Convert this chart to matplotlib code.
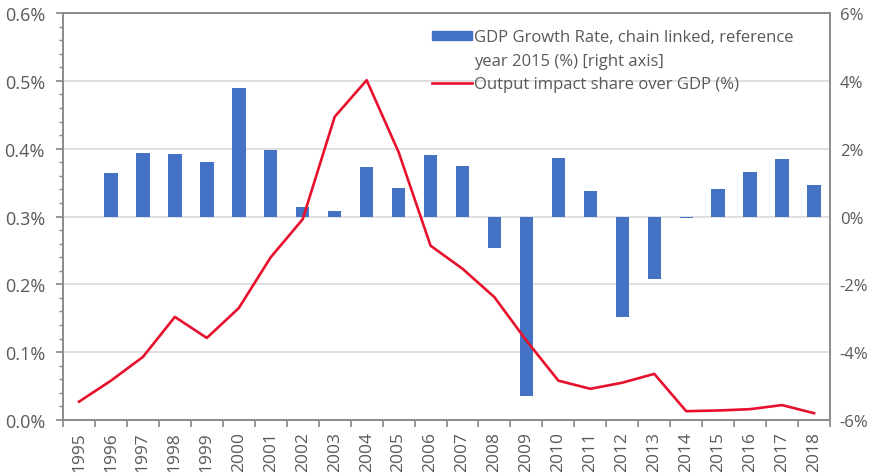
import matplotlib
matplotlib.use("Agg")
import matplotlib.pyplot as plt
import numpy as np
from matplotlib.ticker import FuncFormatter, MultipleLocator
from matplotlib.patches import Patch
from matplotlib.lines import Line2D

years = [str(y) for y in range(1995, 2019)]
# Output impact share over GDP (%), left axis
impact = [0.027, 0.058, 0.093, 0.152, 0.121, 0.165, 0.240, 0.296, 0.447, 0.501,
          0.395, 0.257, 0.223, 0.181, 0.117, 0.058, 0.046, 0.055, 0.068, 0.013,
          0.014, 0.016, 0.022, 0.010]
# GDP growth rate (%), right axis (no value for 1995)
gdp = [np.nan, 1.27, 1.86, 1.83, 1.62, 3.80, 1.95, 0.27, 0.15, 1.45,
       0.83, 1.80, 1.50, -0.94, -5.28, 1.74, 0.74, -2.95, -1.83, -0.05,
       0.80, 1.30, 1.70, 0.94]

plt.rcParams['font.family'] = ['Open Sans', 'DejaVu Sans']
txt = '#595959'
blue = '#4472C4'
red = '#E8112D'

fig = plt.figure(figsize=(8.79, 4.77), dpi=100)
ax = fig.add_axes([0.0717, 0.1174, 0.8726, 0.8532])
ax2 = ax.twinx()
ax.set_zorder(ax2.get_zorder() + 1)
ax.patch.set_visible(False)

x = np.arange(len(years))
ax2.bar(x, gdp, width=0.42, color=blue, zorder=2)
ax.plot(x, impact, color=red, lw=1.9, zorder=3)

ax.set_xlim(-0.5, len(years) - 0.5)
ax.set_ylim(0, 0.6)
ax2.set_ylim(-6, 6)

ax2.yaxis.set_major_locator(MultipleLocator(2))
ax2.grid(axis='y', color='#d9d9d9', lw=1.2, zorder=0)
ax2.set_axisbelow(True)

ax.yaxis.set_major_locator(MultipleLocator(0.1))
ax.yaxis.set_minor_locator(MultipleLocator(0.02))
ax.yaxis.set_major_formatter(FuncFormatter(lambda v, p: f'{v:.1f}%'))
ax2.yaxis.set_major_formatter(FuncFormatter(lambda v, p: f'{v:.0f}%'))

ax.set_xticks(x)
ax.set_xticklabels(years, rotation=90)
ax.set_xticks(np.arange(-0.5, len(years), 1), minor=True)
ax.tick_params(axis='x', which='major', length=0, pad=8, labelsize=12.5, labelcolor=txt)
ax.tick_params(axis='x', which='minor', length=5, color='#888888', width=1.2)
ax.tick_params(axis='y', which='major', length=5, color='#888888', width=1.2,
               labelsize=13, labelcolor=txt, pad=8)
ax.tick_params(axis='y', which='minor', length=3, color='#888888', width=1)
ax2.tick_params(axis='y', length=0, pad=7, labelsize=12, labelcolor=txt)

for a in (ax, ax2):
    for s in a.spines.values():
        s.set_color('#8c8c8c')
        s.set_linewidth(1.3)

handles = [Patch(color=blue), Patch(color='none'), Line2D([0], [0], color=red, lw=1.9)]
labels = ['GDP Growth Rate, chain linked, reference',
          'year 2015 (%) [right axis]',
          'Output impact share over GDP (%)']
leg = ax.legend(handles, labels, loc='upper left', bbox_to_anchor=(0.474, 0.968),
                bbox_transform=fig.transFigure, frameon=False, fontsize=12,
                handlelength=2.4, handleheight=0.45, handletextpad=0.15,
                labelspacing=0.45, labelcolor=txt)

fig.savefig('out.png', dpi=100)
